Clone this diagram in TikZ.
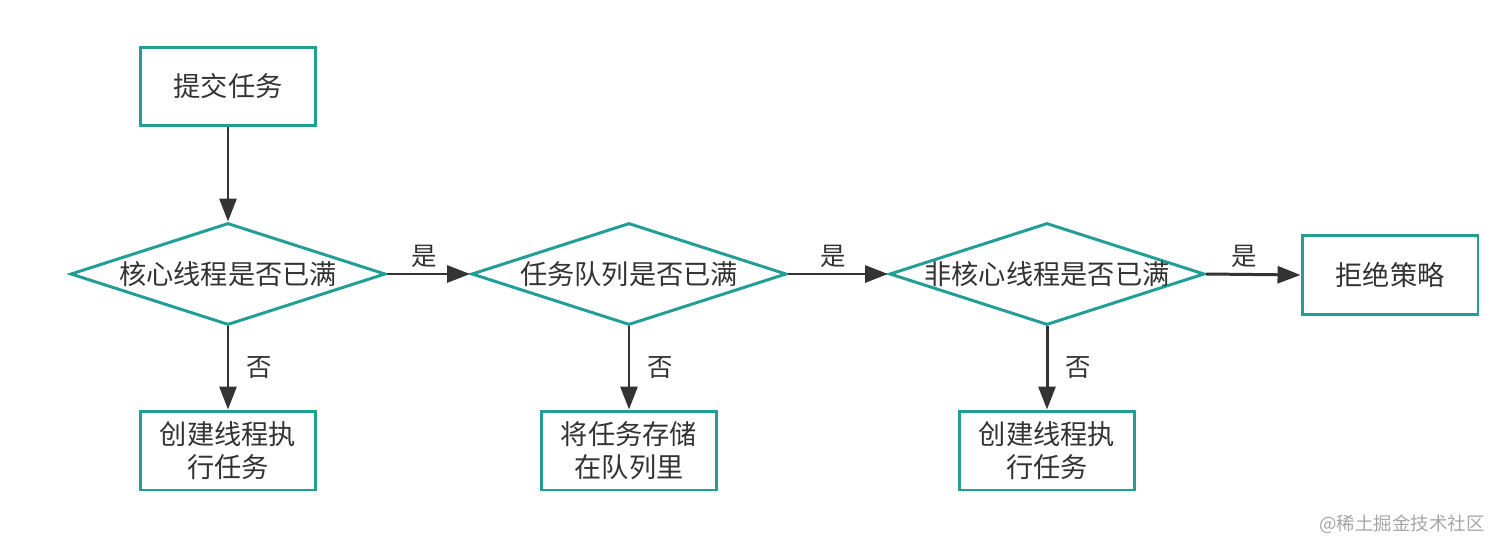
\documentclass[tikz,border=0pt]{standalone}
\usepackage{fontspec}
\setmainfont{Noto Sans CJK SC}
\usetikzlibrary{shapes.geometric,arrows.meta}
\definecolor{boxteal}{RGB}{34,158,150}
\definecolor{txtgray}{RGB}{51,51,51}
\tikzset{
	stepbox/.style={draw=boxteal, line width=1.7pt, rectangle, minimum width=3.52cm, minimum height=1.58cm, align=center, text=txtgray, font=\fontsize{15.5}{18.5}\selectfont},
	decide/.style={draw=boxteal, line width=1.7pt, diamond, inner sep=0pt, minimum width=6.3cm, minimum height=2.04cm, text=txtgray, font=\fontsize{15.5}{18.5}\selectfont},
	flow/.style={draw=txtgray, line width=1.7pt, -{Triangle[length=0.46cm,width=0.34cm]}},
	yes/.style={text=txtgray, font=\fontsize{14.5}{17}\selectfont}
}
\begin{document}
\begin{tikzpicture}[x=0.02cm, y=-0.02cm]
	\useasboundingbox (0,0) rectangle (1512,551);
	% steps and decisions
	\node[stepbox] (submit) at (228,86.5) {提交任务};
	\node[decide] (core) at (228,274) {\makebox[0pt]{核心线程是否已满}};
	\node[decide] (queue) at (629,274) {\makebox[0pt]{任务队列是否已满}};
	\node[decide] (noncore) at (1047,274) {\makebox[0pt]{非核心线程是否已满}};
	\node[stepbox] (reject) at (1390,275) {拒绝策略};
	\node[stepbox] (runcore) at (228,450.5) {创建线程执\\行任务};
	\node[stepbox] (store) at (629,450.5) {将任务存储\\在队列里};
	\node[stepbox] (runextra) at (1047,450.5) {创建线程执\\行任务};
	% connectors
	\draw[flow] (submit) -- (core);
	\draw[flow] (core.east) -- node[yes, above, pos=0.45, inner sep=3pt] {是} (queue.west);
	\draw[flow] (queue.east) -- node[yes, above, pos=0.45, inner sep=3pt] {是} (noncore.west);
	\draw[flow] (noncore.east) -- node[yes, above, pos=0.4, inner sep=3pt] {是} (reject.west);
	\draw[flow] (core.south) -- node[yes, right, xshift=0.22cm] {否} (runcore.north);
	\draw[flow] (queue.south) -- node[yes, right, xshift=0.22cm] {否} (store.north);
	\draw[flow] (noncore.south) -- node[yes, right, xshift=0.22cm] {否} (runextra.north);
	% watermark
	\node[text=gray!70, font=\fontsize{10.5}{12}\selectfont] (mark) at (1402,524) {@稀土掘金技术社区};
\end{tikzpicture}
\end{document}
